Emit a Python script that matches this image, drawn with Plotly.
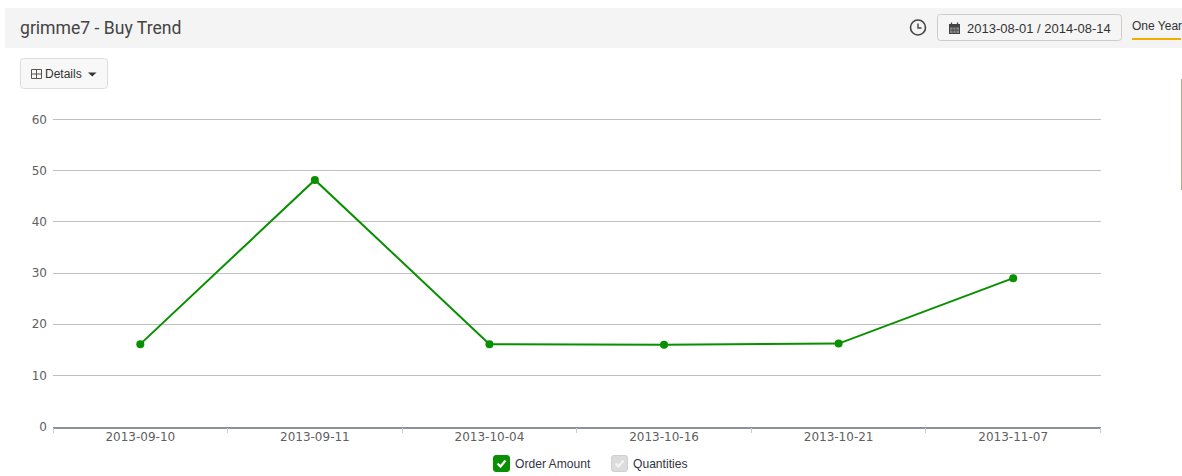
import plotly.graph_objects as go

W, H = 1182, 476

categories = ["2013-09-10", "2013-09-11", "2013-10-04", "2013-10-16", "2013-10-21", "2013-11-07"]
order_amount = [16.1, 48.2, 16.1, 16.0, 16.2, 29.0]
y_ticks = [0, 10, 20, 30, 40, 50, 60]
series_name = "Order Amount"
other_series = "Quantities"
page_title = "grimme7 - Buy Trend"
date_range = "2013-08-01 / 2014-08-14"
range_label = "One Year"
menu_label = "Details"

GREEN = "#089000"


def fx(p):
    return p / W


def fy(p):
    return 1 - p / H


def box(x0, y0, x1, y1, fill="rgba(0,0,0,0)", line="rgba(0,0,0,0)", width=1):
    return dict(type="rect", xref="paper", yref="paper", x0=fx(x0), x1=fx(x1), y0=fy(y1), y1=fy(y0),
                fillcolor=fill, line=dict(color=line, width=width), layer="below")


def poly(points, fill="rgba(0,0,0,0)", line="rgba(0,0,0,0)", width=1, closed=False):
    d = "M " + " L ".join(f"{fx(a):.5f},{fy(b):.5f}" for a, b in points) + (" Z" if closed else "")
    return dict(type="path", xref="paper", yref="paper", path=d, fillcolor=fill,
                line=dict(color=line, width=width), layer="above")


def rounded(x0, y0, x1, y1, r, fill, line):
    d = (f"M {fx(x0+r):.5f},{fy(y0):.5f} L {fx(x1-r):.5f},{fy(y0):.5f} "
         f"Q {fx(x1):.5f},{fy(y0):.5f} {fx(x1):.5f},{fy(y0+r):.5f} "
         f"L {fx(x1):.5f},{fy(y1-r):.5f} Q {fx(x1):.5f},{fy(y1):.5f} {fx(x1-r):.5f},{fy(y1):.5f} "
         f"L {fx(x0+r):.5f},{fy(y1):.5f} Q {fx(x0):.5f},{fy(y1):.5f} {fx(x0):.5f},{fy(y1-r):.5f} "
         f"L {fx(x0):.5f},{fy(y0+r):.5f} Q {fx(x0):.5f},{fy(y0):.5f} {fx(x0+r):.5f},{fy(y0):.5f} Z")
    return dict(type="path", xref="paper", yref="paper", path=d, fillcolor=fill,
                line=dict(color=line, width=1), layer="below")


def label(x, y, text, size, color, family="Liberation Sans", anchor="left"):
    return dict(xref="paper", yref="paper", x=fx(x), y=fy(y), text=text, showarrow=False,
                xanchor=anchor, yanchor="middle", font=dict(size=size, color=color, family=family),
                borderpad=0, borderwidth=0)


shapes = [
    box(5, 8, 1182, 48, fill="#f4f4f4"),
    rounded(937.5, 14.5, 1121.5, 40.5, 3, "#f5f5f5", "#cccccc"),
    box(1132, 38, 1181, 40, fill="#f5ac00"),
    rounded(20.5, 58.5, 107.5, 88.5, 3, "#f8f8f8", "#dddddd"),
    box(1181, 79, 1182, 190, fill="#a8b088"),
    # clock icon
    dict(type="circle", xref="paper", yref="paper", x0=fx(910.5), x1=fx(925.5), y0=fy(35), y1=fy(20),
         line=dict(color="#444444", width=1.6), layer="above"),
    poly([(918, 23.5), (918, 28), (921.5, 28)], line="#444444", width=1.4),
    # calendar icon
    box(949, 24, 960, 34, fill="#444444"),
    box(950, 27.5, 959, 33, fill="#888888"),
    poly([(951.5, 22.5), (951.5, 25)], line="#444444", width=1.3),
    poly([(957.5, 22.5), (957.5, 25)], line="#444444", width=1.3),
    poly([(953, 27.5), (953, 33)], line="#444444", width=0.8),
    poly([(956, 27.5), (956, 33)], line="#444444", width=0.8),
    poly([(950, 30.2), (959, 30.2)], line="#444444", width=0.8),
    # table icon on the Details button
    box(31.5, 69.5, 41.5, 78.5, line="#555555"),
    poly([(36.5, 69.5), (36.5, 78.5)], line="#555555"),
    poly([(31.5, 74), (41.5, 74)], line="#555555"),
    # caret
    poly([(88, 72.5), (96.5, 72.5), (92.2, 76.5)], fill="#333333", closed=True),
    # legend checkboxes
    rounded(493.5, 455.5, 509.5, 471.5, 2.5, GREEN, GREEN),
    poly([(497.5, 463.5), (500.5, 466.5), (505.5, 460.5)], line="#ffffff", width=2.2),
    rounded(611.5, 455.5, 627.5, 471.5, 2.5, "#dcdcdc", "#d0d0d0"),
    poly([(615.5, 463.5), (618.5, 466.5), (623.5, 460.5)], line="#f4f4f4", width=2.2),
]

annotations = [
    label(20, 28, page_title, 17.6, "#444444", "Roboto"),
    label(967, 28, date_range, 13, "#333333"),
    label(1132, 26, range_label, 12, "#333333"),
    label(45, 74, menu_label, 12, "#333333"),
    label(515, 464, series_name, 12.1, "#333344"),
    label(633, 464, other_series, 12.1, "#333344"),
]

fig = go.Figure(go.Scatter(
    x=categories, y=order_amount, mode="lines+markers", name=series_name,
    line=dict(color=GREEN, width=2), marker=dict(color=GREEN, size=8),
    cliponaxis=False, showlegend=False,
))

fig.update_layout(
    width=W, height=H, autosize=False,
    margin=dict(l=0, r=0, t=0, b=0),
    paper_bgcolor="#ffffff", plot_bgcolor="#ffffff",
    showlegend=False, shapes=shapes, annotations=annotations,
    xaxis=dict(
        domain=[fx(53), fx(1100.5)], type="category", categoryorder="array", categoryarray=categories,
        range=[-0.5, 5.5], tickson="boundaries", ticks="outside", ticklen=5, tickwidth=1,
        ticklabelstandoff=-2,
        tickcolor="#c0d0e0", showgrid=False, zeroline=False, showline=True, linecolor="#8a929e",
        linewidth=1.5, tickfont=dict(family="DejaVu Sans", size=12, color="#606060"),
        automargin=False,
    ),
    yaxis=dict(
        domain=[fy(426.5), fy(118.5)], range=[0, 60.2], tickvals=y_ticks, ticks="",
        ticklabelstandoff=5,
        showgrid=True, gridcolor="#c0c0c0", gridwidth=1, zeroline=False, showline=False,
        tickfont=dict(family="DejaVu Sans", size=12, color="#606060"), automargin=False,
    ),
)

fig.write_html("out.html", config={"displayModeBar": False},
               post_script="document.body.style.margin='0';document.body.style.overflow='hidden';")
